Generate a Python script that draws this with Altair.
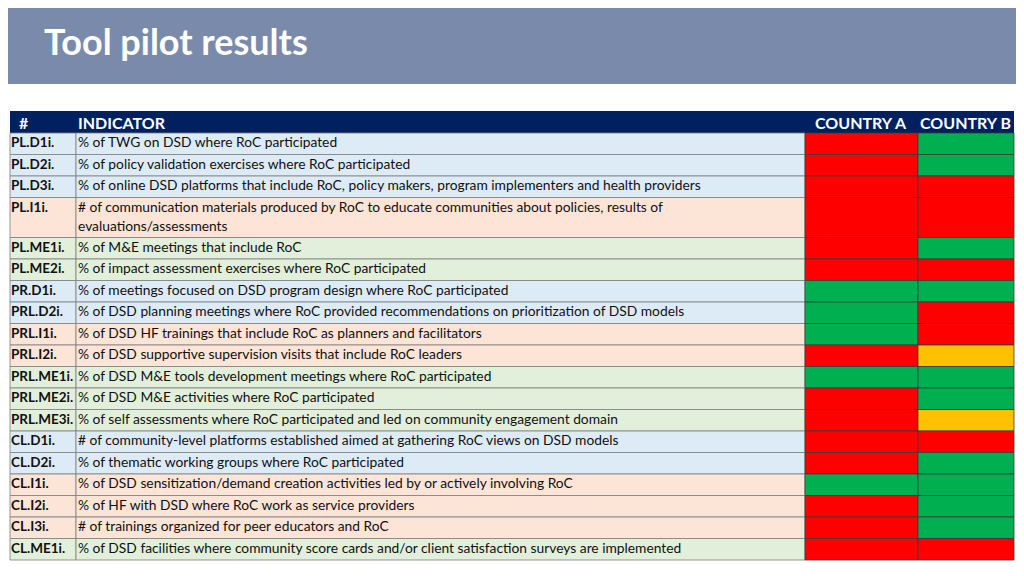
import altair as alt
import pandas as pd
import re

# ---------------- data ----------------
title_text = "Tool pilot results"
header_labels = ["#", "INDICATOR", "COUNTRY A", "COUNTRY B"]

codes = ["PL.D1i.", "PL.D2i.", "PL.D3i.", "PL.I1i.", "PL.ME1i.", "PL.ME2i.",
         "PR.D1i.", "PRL.D2i.", "PRL.I1i.", "PRL.I2i.", "PRL.ME1i.", "PRL.ME2i.",
         "PRL.ME3i.", "CL.D1i.", "CL.D2i.", "CL.I1i.", "CL.I2i.", "CL.I3i.", "CL.ME1i."]

indicators = [
    "% of TWG on DSD where RoC participated",
    "% of policy validation exercises where RoC participated",
    "% of online DSD platforms that include RoC, policy makers, program implementers and health providers",
    "# of communication materials produced by RoC to educate communities about policies, results of\nevaluations/assessments",
    "% of M&E meetings that include RoC",
    "% of impact assessment exercises where RoC participated",
    "% of meetings focused on DSD program design where RoC participated",
    "% of DSD planning meetings where RoC provided recommendations on prioritization of DSD models",
    "% of DSD HF trainings that include RoC as planners and facilitators",
    "% of DSD supportive supervision visits that include RoC leaders",
    "% of DSD M&E tools development meetings where RoC participated",
    "% of DSD M&E activities where RoC participated",
    "% of self assessments where RoC participated and led on community engagement domain",
    "# of community-level platforms established aimed at gathering RoC views on DSD models",
    "% of thematic working groups where RoC participated",
    "% of DSD sensitization/demand creation activities led by or actively involving RoC",
    "% of HF with DSD where RoC work as service providers",
    "# of trainings organized for peer educators and RoC",
    "% of DSD facilities where community score cards and/or client satisfaction surveys are implemented",
]

country_a = ["red", "red", "red", "red", "red", "red", "green", "green", "green", "red",
             "green", "red", "red", "red", "red", "green", "red", "red", "red"]
country_b = ["green", "green", "red", "red", "green", "red", "green", "red", "red", "yellow",
             "green", "green", "yellow", "red", "green", "green", "green", "green", "red"]

# ---------------- styling / layout ----------------
FONT = "Lato"
BAND_COLOR = "#7A8AAB"
HEADER_COLOR = "#002060"
CATEGORY_BG = {"D": "#DDEBF7", "I": "#FCE4D6", "ME": "#E2EFDA"}
STATUS_COLOR = {"red": "#FF0000", "green": "#00B050", "yellow": "#FFC000"}

X_LEFT, X_CODE_END, X_IND_END, X_A_END, X_B_END = 10, 76, 805, 918, 1014
HEADER_TOP, HEADER_BOTTOM = 111, 133
ROW_H, EXTRA_LINE_H = 21.5, 18.5

# ---------------- build tables ----------------
rects, code_rows, ind_rows = [], [], []

rects.append(dict(x0=0, x1=1024, y0=0, y1=84, fill=BAND_COLOR, stroke=BAND_COLOR, sw=0))
rects.append(dict(x0=X_LEFT, x1=X_B_END, y0=HEADER_TOP, y1=HEADER_BOTTOM,
                  fill=HEADER_COLOR, stroke=HEADER_COLOR, sw=0))

y = HEADER_BOTTOM
for code, ind, a, b in zip(codes, indicators, country_a, country_b):
    n_lines = ind.count("\n") + 1
    h = ROW_H + EXTRA_LINE_H * (n_lines - 1)
    cat = re.match(r"[A-Z]+\.([A-Z]+)\d", code).group(1)
    bg = CATEGORY_BG[cat]
    rects.append(dict(x0=X_LEFT, x1=X_CODE_END, y0=y, y1=y + h, fill=bg, stroke="#7F7F7F", sw=0.8))
    rects.append(dict(x0=X_CODE_END, x1=X_IND_END, y0=y, y1=y + h, fill=bg, stroke="#7F7F7F", sw=0.8))
    rects.append(dict(x0=X_IND_END, x1=X_A_END, y0=y, y1=y + h, fill=STATUS_COLOR[a], stroke="#3A3A3A", sw=0.8))
    rects.append(dict(x0=X_A_END, x1=X_B_END, y0=y, y1=y + h, fill=STATUS_COLOR[b], stroke="#3A3A3A", sw=0.8))
    code_rows.append(dict(x=X_LEFT + 1, y=y + 3, label=code))
    ind_rows.append(dict(x=X_CODE_END + 2, y=y + 3, label=ind))
    y += h

rect_df = pd.DataFrame(rects)
code_df = pd.DataFrame(code_rows)
ind_df = pd.DataFrame(ind_rows)

header_df = pd.DataFrame(dict(
    x=[19, X_CODE_END + 2, X_IND_END + 10, X_A_END + 2],
    y=[HEADER_TOP + 12.5] * 4,
    label=header_labels,
))
title_df = pd.DataFrame(dict(x=[44], y=[44], label=[title_text]))

xs = alt.Scale(domain=[8, 1016], nice=False, zero=False)
ys = alt.Scale(domain=[8, 568], nice=False, zero=False, reverse=True)

rect_layer = alt.Chart(rect_df).mark_rect().encode(
    x=alt.X("x0:Q", scale=xs, axis=None),
    x2="x1:Q",
    y=alt.Y("y0:Q", scale=ys, axis=None),
    y2="y1:Q",
    fill=alt.Fill("fill:N", scale=None),
    stroke=alt.Stroke("stroke:N", scale=None),
    strokeWidth=alt.StrokeWidth("sw:Q", scale=None),
)


def text_layer(df, size, weight, color, baseline="top"):
    return alt.Chart(df).mark_text(
        align="left", baseline=baseline, font=FONT, fontSize=size, fontWeight=weight,
        lineBreak="\n", lineHeight=19, color=color,
    ).encode(
        x=alt.X("x:Q", scale=xs, axis=None),
        y=alt.Y("y:Q", scale=ys, axis=None),
        text="label:N",
    )


code_text = text_layer(code_df, 13.5, "bold", "#111111")
ind_text = text_layer(ind_df, 13.8, "normal", "#111111")
header_text = text_layer(header_df, 16, "bold", "white", baseline="middle")
title_layer = text_layer(title_df, 36, "bold", "white", baseline="middle")

chart = alt.layer(rect_layer, code_text, ind_text, header_text, title_layer).properties(
    width=1008, height=560, padding=0,
    autosize=alt.AutoSizeParams(type="none"),
).configure_view(stroke=None)

chart.save("out.html", embed_options={"renderer": "svg", "actions": False})
